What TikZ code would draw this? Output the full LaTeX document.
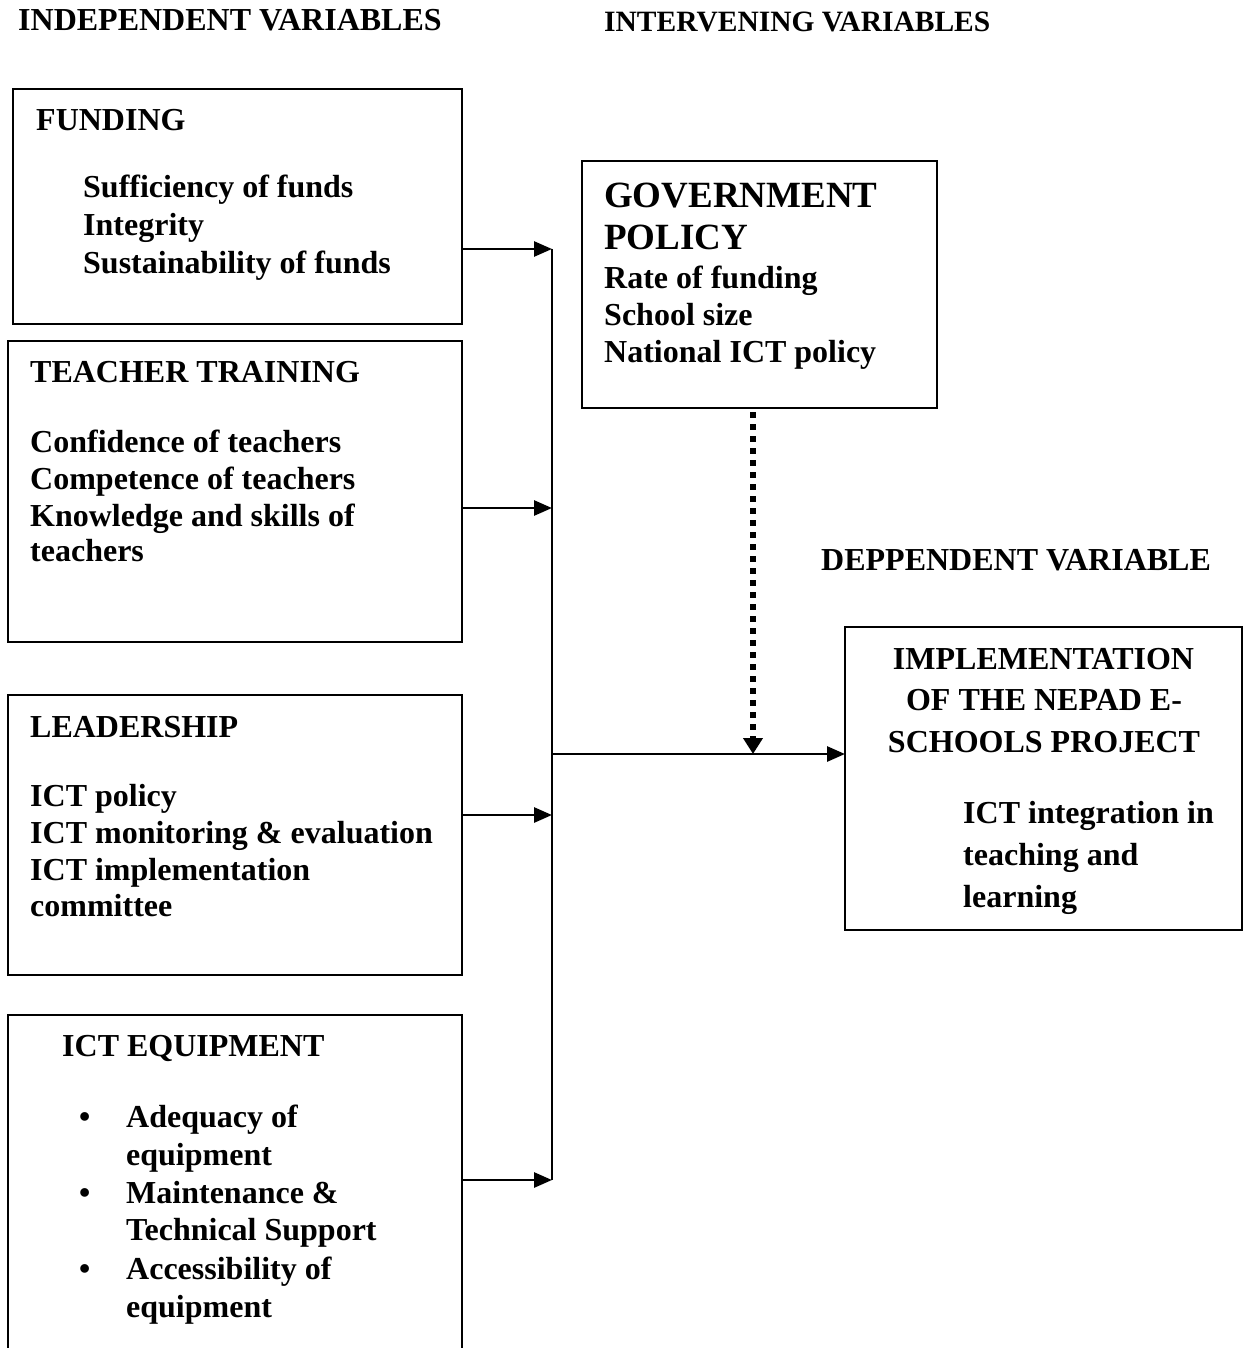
\documentclass[tikz,border=0pt]{standalone}
\usepackage{fontspec}
\setmainfont{Liberation Serif}
\usetikzlibrary{arrows.meta}
\begin{document}
\begin{tikzpicture}[x=1pt,y=-1pt,
  box/.style={draw,line width=2.8pt,rectangle,inner sep=0pt,outer sep=0pt},
  txt/.style={anchor=base west,inner sep=0pt,font=\fontsize{32}{37.5}\selectfont\bfseries},
  bigtxt/.style={anchor=base west,inner sep=0pt,font=\fontsize{37}{42}\selectfont\bfseries},
  hdr/.style={anchor=base west,inner sep=0pt,font=\fontsize{32}{37.5}\selectfont\bfseries},
  arr/.style={line width=2.8pt,-{Triangle[length=18pt,width=15pt]}},
  dotarr/.style={line width=6pt,dash pattern=on 6pt off 6pt,-{Triangle[length=16pt,width=19pt]}}]
\useasboundingbox (0,0) rectangle (1248,1348);
\clip (0,0) rectangle (1248,1348);

% column headings
\node[hdr] (h1) at (18,31) {INDEPENDENT VARIABLES};
\node[hdr,font=\fontsize{29.5}{34}\selectfont\bfseries] (h2) at (604,32) {INTERVENING VARIABLES};
\node[hdr] (h3) at (821,570) {DEPPENDENT VARIABLE};

% independent variable boxes
\node[box,minimum width=449pt,minimum height=235pt] (fund) at (237.5,206.5) {};
\node[box,minimum width=454pt,minimum height=301pt] (teach) at (235,491.5) {};
\node[box,minimum width=454pt,minimum height=280pt] (lead) at (235,835) {};
\coordinate (eqtl) at (8,1015);
\coordinate (eqtr) at (462,1015);
\draw[line width=2.8pt] (8,1360) -- (eqtl) -- (eqtr) -- (462,1360);

% funding
\node[txt] (f0) at (36,131) {FUNDING};
\node[txt] (f1) at (83,198) {Sufficiency of funds};
\node[txt] (f2) at (83,236) {Integrity};
\node[txt] (f3) at (83,273) {Sustainability of funds};

% teacher training
\node[txt] (t0) at (30,382) {TEACHER TRAINING};
\node[txt] (t1) at (30,452) {Confidence of teachers};
\node[txt] (t2) at (30,489) {Competence of teachers};
\node[txt] (t3) at (30,526) {Knowledge and skills of};
\node[txt] (t4) at (30,561) {teachers};

% leadership
\node[txt] (l0) at (30,737) {LEADERSHIP};
\node[txt] (l1) at (30,806) {ICT policy};
\node[txt] (l2) at (30,843) {ICT monitoring \& evaluation};
\node[txt] (l3) at (30,880) {ICT implementation};
\node[txt] (l4) at (30,916) {committee};

% ict equipment
\node[txt] (e0) at (62,1056) {ICT EQUIPMENT};
\node[txt] (eb1) at (79,1127) {•};
\node[txt] (e1) at (126,1127) {Adequacy of};
\node[txt] (e2) at (126,1165) {equipment};
\node[txt] (eb2) at (79,1203) {•};
\node[txt] (e3) at (126,1203) {Maintenance \&};
\node[txt] (e4) at (126,1240) {Technical Support};
\node[txt] (eb3) at (79,1279) {•};
\node[txt] (e5) at (126,1279) {Accessibility of};
\node[txt] (e6) at (126,1317) {equipment};

% intervening variable
\node[box,minimum width=355pt,minimum height=247pt] (gov) at (759.5,284.5) {};
\node[bigtxt] (g0) at (604,208) {GOVERNMENT};
\node[bigtxt] (g1) at (604,250) {POLICY};
\node[txt] (g2) at (604,288) {Rate of funding};
\node[txt] (g3) at (604,325) {School size};
\node[txt] (g4) at (604,362) {National ICT policy};

% dependent variable
\node[box,minimum width=397pt,minimum height=303pt] (impl) at (1043.5,778.5) {};
\node[txt,anchor=base] (i0) at (1043.5,669) {IMPLEMENTATION};
\node[txt,anchor=base] (i1) at (1044,710) {OF THE NEPAD E-};
\node[txt,anchor=base] (i2) at (1044,752) {SCHOOLS PROJECT};
\node[txt] (i3) at (963,823) {ICT integration in};
\node[txt] (i4) at (963,865) {teaching and};
\node[txt] (i5) at (963,907) {learning};

% connectors
\coordinate (j1) at (552,249);
\coordinate (j2) at (552,508);
\coordinate (j3) at (552,815);
\coordinate (j4) at (552,1180);
\coordinate (jm) at (552,754);
\coordinate (jd) at (753,754);
\draw[line width=2.8pt] (j1) -- (j4);
\draw[arr] (fund.east |- j1) -- (j1);
\draw[arr] (teach.east |- j2) -- (j2);
\draw[arr] (lead.east |- j3) -- (j3);
\draw[arr] (eqtr |- j4) -- (j4);
\draw[arr] (jm) -- (impl.west |- jm);
\draw[dotarr] (gov.south -| jd) ++(0,4) -- (jd);
\end{tikzpicture}
\end{document}
